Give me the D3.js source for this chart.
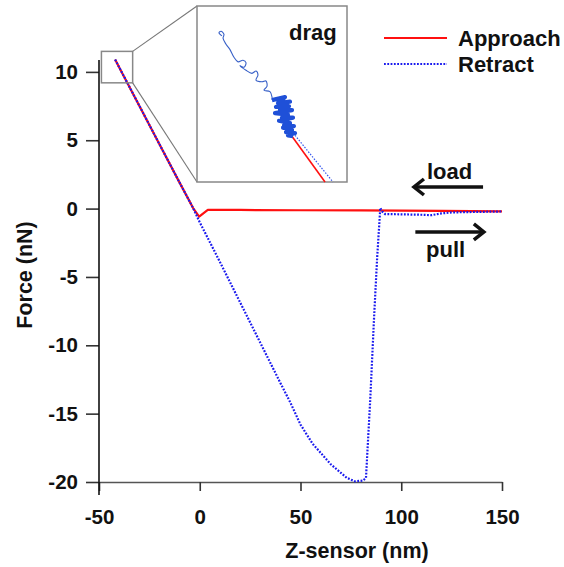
<!DOCTYPE html>
<html>
<head>
<meta charset="utf-8">
<script src="https://cdn.jsdelivr.net/npm/d3@7"></script>
<style>
  html, body { margin: 0; padding: 0; background: #fff; }
  svg text { font-family: "Liberation Sans", Arial, sans-serif; }
</style>
</head>
<body>
<svg id="chart" width="564" height="567"></svg>
<script>
// ---------- data ----------
const xTicks = [-50, 0, 50, 100, 150];
const yTicks = [-20, -15, -10, -5, 0, 5, 10];

const approachZ = [-42, -38, -30, -20, -10, -3.3, -0.3, 4, 20, 50, 80, 100, 120, 150];
const approachF = [10.9, 9.78, 7.53, 4.71, 1.90, 0.04, -0.58, -0.09, -0.10, -0.12, -0.13, -0.15, -0.17, -0.20];

const retractZ = [-42, -38, -30, -20, -10, -3.3, 0, 10, 20, 30, 40, 45, 50, 56, 65, 73, 77, 81, 82.5, 84.6, 86.5, 88, 89.6, 90.5, 92, 100, 110, 115, 120, 125, 135, 150];
const retractF = [10.9, 9.78, 7.53, 4.71, 1.90, 0.04, -1.0, -3.9, -6.85, -9.8, -12.75, -14.2, -15.8, -17.2, -18.7, -19.7, -19.95, -19.9, -19.7, -14.0, -8.0, -3.7, 0.05, -0.2, -0.4, -0.42, -0.45, -0.48, -0.35, -0.28, -0.25, -0.21];

// inset (zoom of the small box) data
const insetDomainZ = [-48.8, -33.3];
const insetDomainF = [9.2, 11.5];
const insetDragZ = [-46.22, -46.53, -46.32, -46.01, -46.11, -45.80, -45.39, -44.98, -44.56, -44.05, -43.74, -43.94, -44.36, -43.74, -43.12, -42.70, -42.50, -42.70, -42.08, -41.67, -41.57, -41.88, -41.26, -41.05, -41.05];
const insetDragF = [11.11, 11.15, 11.17, 11.13, 11.08, 11.00, 10.93, 10.83, 10.77, 10.79, 10.76, 10.70, 10.72, 10.66, 10.62, 10.65, 10.60, 10.53, 10.51, 10.52, 10.45, 10.40, 10.38, 10.31, 10.27];
const insetBlobZ = [-41.05, -39.71, -40.43, -39.19, -40.64, -39.29, -40.22, -38.98, -40.74, -39.40, -40.02, -38.88, -40.33, -39.19, -39.81, -38.78, -39.91, -38.98, -39.60, -38.67, -39.40, -38.88];
const insetBlobF = [10.27, 10.31, 10.23, 10.25, 10.18, 10.19, 10.14, 10.14, 10.10, 10.08, 10.04, 10.04, 10.00, 9.97, 9.94, 9.93, 9.91, 9.88, 9.85, 9.84, 9.81, 9.80];
const insetRetractZ = [-38.67, -34.75];
const insetRetractF = [9.81, 9.20];
const insetApproachZ = [-39.4, -35.57];
const insetApproachF = [9.87, 9.20];

// annotation arrows (data units)
const loadArrowZ = [140.6, 106.3];
const pullArrowZ = [107.0, 141.0];
const loadArrowF = 1.58;
const pullArrowF = -1.71;

// ---------- chart ----------
const svg = d3.select("#chart");
const x = d3.scaleLinear().domain([-50, 150]).range([99, 502]);
const y = d3.scaleLinear().domain([-20, 10.87]).range([482, 60]);

const line = d3.line().x(d => x(d[0])).y(d => y(d[1]));
const zip = (a, b) => a.map((v, i) => [v, b[i]]);
const fmt = d => String(d);

// axes
const xAxis = d3.axisBottom(x).tickValues(xTicks).tickSize(9).tickSizeOuter(0).tickPadding(18).tickFormat(fmt);
const gx = svg.append("g").attr("transform", `translate(0,${y(-20)})`).call(xAxis);
gx.select(".domain").attr("stroke", "#555").attr("stroke-width", 1.6);
gx.selectAll(".tick line").attr("stroke", "#333").attr("stroke-width", 1.6);
gx.selectAll("text").attr("font-size", 20.5).attr("font-weight", "bold").attr("fill", "#111");

const yAxis = d3.axisLeft(y).tickValues(yTicks).tickSize(13).tickSizeOuter(0).tickPadding(8).tickFormat(fmt);
const gy = svg.append("g").attr("transform", `translate(${x(-50)},0)`).call(yAxis);
gy.select(".domain").remove();
gy.append("line").attr("x1", 0).attr("x2", 0).attr("y1", 60).attr("y2", 495)
  .attr("stroke", "#111").attr("stroke-width", 1.6);
gy.selectAll(".tick line").attr("stroke", "#333").attr("stroke-width", 1.6);
gy.selectAll("text").attr("font-size", 20.5).attr("font-weight", "bold").attr("fill", "#111");

// axis titles
svg.append("text").attr("x", 357).attr("y", 558).attr("text-anchor", "middle")
  .attr("font-size", 21.5).attr("font-weight", "bold").attr("fill", "#111").text("Z-sensor (nm)");
svg.append("text").attr("transform", "translate(32,275) rotate(-90)").attr("text-anchor", "middle")
  .attr("font-size", 21.5).attr("font-weight", "bold").attr("fill", "#111").text("Force (nN)");

// curves
svg.append("path").datum(zip(approachZ, approachF)).attr("d", line)
  .attr("fill", "none").attr("stroke", "#ff1010").attr("stroke-width", 2.2).attr("stroke-linejoin", "round");
svg.append("path").datum(zip(retractZ, retractF)).attr("d", line)
  .attr("fill", "none").attr("stroke", "#1a1aee").attr("stroke-width", 2.2)
  .attr("stroke-dasharray", "1.8,1.5").attr("stroke-linejoin", "round");

// small zoom box (in data coords of the inset domain)
const bx0 = x(insetDomainZ[0]), bx1 = x(insetDomainZ[1]);
const by0 = y(insetDomainF[1]), by1 = y(insetDomainF[0]);
svg.append("rect").attr("x", bx0).attr("y", by0).attr("width", bx1 - bx0).attr("height", by1 - by0)
  .attr("fill", "none").attr("stroke", "#888").attr("stroke-width", 1.5);

// inset
const ix = d3.scaleLinear().domain(insetDomainZ).range([197, 347]);
const iy = d3.scaleLinear().domain(insetDomainF).range([182, 6]);
svg.append("line").attr("x1", bx1).attr("y1", by0).attr("x2", 197).attr("y2", 6).attr("stroke", "#777").attr("stroke-width", 1.1);
svg.append("line").attr("x1", bx1).attr("y1", by1).attr("x2", 197).attr("y2", 182).attr("stroke", "#777").attr("stroke-width", 1.1);
svg.append("rect").attr("x", 197).attr("y", 6).attr("width", 150).attr("height", 176)
  .attr("fill", "#fff").attr("stroke", "#888").attr("stroke-width", 1.5);
const iline = d3.line().x(d => ix(d[0])).y(d => iy(d[1])).curve(d3.curveCatmullRom);
const ilineLin = d3.line().x(d => ix(d[0])).y(d => iy(d[1]));
svg.append("path").datum(zip(insetApproachZ, insetApproachF)).attr("d", ilineLin)
  .attr("fill", "none").attr("stroke", "#ff1010").attr("stroke-width", 1.6);
svg.append("path").datum(zip(insetRetractZ, insetRetractF)).attr("d", ilineLin)
  .attr("fill", "none").attr("stroke", "#3355ee").attr("stroke-width", 1.2).attr("stroke-dasharray", "1.5,1.5");
svg.append("path").datum(zip(insetDragZ, insetDragF)).attr("d", iline)
  .attr("fill", "none").attr("stroke", "#3a62c8").attr("stroke-width", 1.1);
svg.append("path").datum(zip(insetBlobZ, insetBlobF)).attr("d", ilineLin)
  .attr("fill", "none").attr("stroke", "#1f50d8").attr("stroke-width", 4.2).attr("stroke-linejoin", "round");
svg.append("text").attr("x", 289).attr("y", 40).attr("font-size", 22).attr("font-weight", "bold")
  .attr("fill", "#111").text("drag");

// legend
const lg = svg.append("g");
lg.append("line").attr("x1", 384).attr("x2", 447).attr("y1", 38).attr("y2", 38)
  .attr("stroke", "#ff1010").attr("stroke-width", 2.2);
lg.append("line").attr("x1", 384).attr("x2", 447).attr("y1", 64).attr("y2", 64)
  .attr("stroke", "#1a1aee").attr("stroke-width", 2.2).attr("stroke-dasharray", "1.8,1.5");
lg.append("text").attr("x", 458).attr("y", 46).attr("font-size", 22).attr("font-weight", "bold").attr("fill", "#111").text("Approach");
lg.append("text").attr("x", 458).attr("y", 72).attr("font-size", 22).attr("font-weight", "bold").attr("fill", "#111").text("Retract");

// arrows
function arrow(z0, z1, f) {
  const x0 = x(z0), x1 = x(z1), yy = y(f);
  const dir = Math.sign(x1 - x0);
  svg.append("line").attr("x1", x0).attr("x2", x1 - dir * 1).attr("y1", yy).attr("y2", yy)
    .attr("stroke", "#111").attr("stroke-width", 3.5);
  svg.append("path").attr("d", `M${x1 - dir * 10},${yy - 8} L${x1},${yy} L${x1 - dir * 10},${yy + 8}`)
    .attr("fill", "none").attr("stroke", "#111").attr("stroke-width", 3.5).attr("stroke-linejoin", "miter");
}
arrow(loadArrowZ[0], loadArrowZ[1], loadArrowF);
arrow(pullArrowZ[0], pullArrowZ[1], pullArrowF);
svg.append("text").attr("x", x(124)).attr("y", y(loadArrowF) - 8).attr("text-anchor", "middle")
  .attr("font-size", 22).attr("font-weight", "bold").attr("fill", "#111").text("load");
svg.append("text").attr("x", x(122)).attr("y", y(pullArrowF) + 25).attr("text-anchor", "middle")
  .attr("font-size", 22).attr("font-weight", "bold").attr("fill", "#111").text("pull");
</script>
</body>
</html>
